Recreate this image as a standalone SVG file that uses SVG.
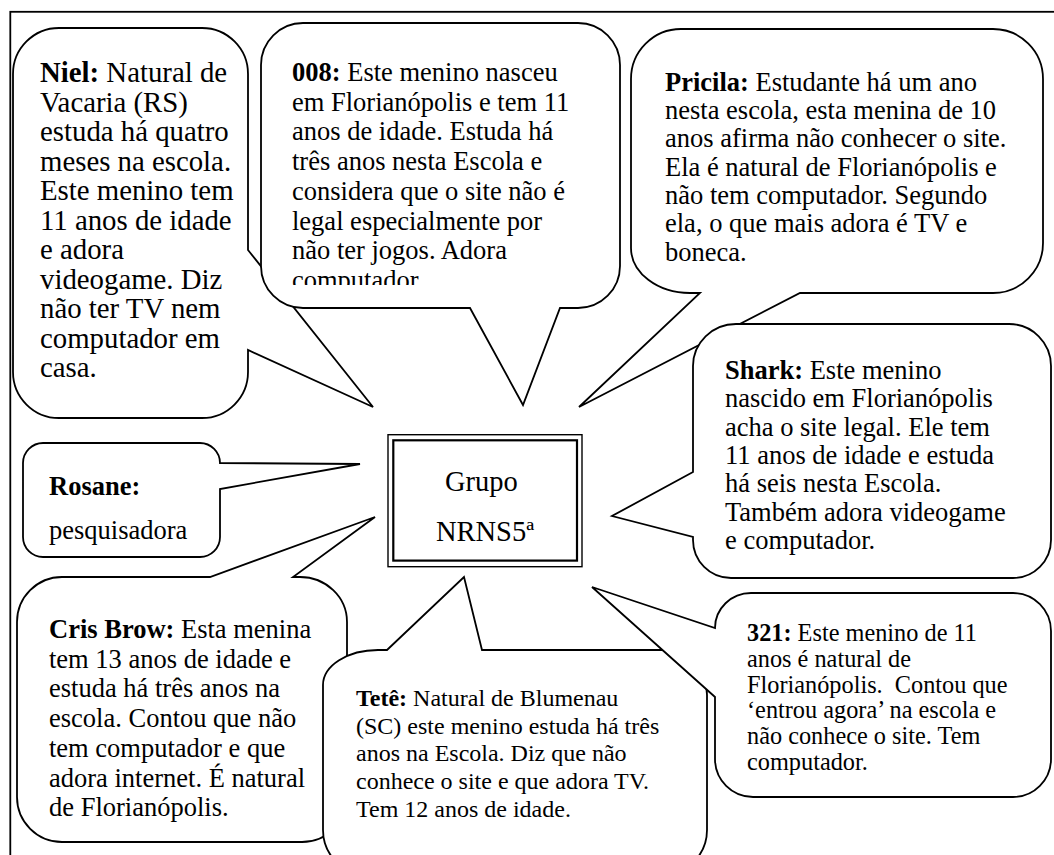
<svg xmlns="http://www.w3.org/2000/svg" width="1054" height="855" viewBox="0 0 1054 855">
<style>
.b{fill:#fff;stroke:#000;stroke-width:1.8;stroke-linejoin:miter}
.t{font-family:"Liberation Serif","Times New Roman",serif;fill:#000}
.n{font-weight:bold}
.g{font-size:26.5px}
.s{font-size:24px}
</style>
<defs>
<clipPath id="c008"><rect x="261" y="23" width="359" height="262"/></clipPath>
</defs>
<rect width="1054" height="855" fill="#fff"/>
<rect x="10.3" y="11.8" width="1100" height="900" fill="none" stroke="#000" stroke-width="1.8"/>

<g id="niel">
<path class="b" d="M59,28 H202 A46 46 0 0 1 248,74 V250 L373,407 L248,350 V372 A46 46 0 0 1 202,418 H59 A46 46 0 0 1 13,372 V74 A46 46 0 0 1 59,28 Z"/>
<text class="t" font-size="28.8">
<tspan x="40" y="82"><tspan class="n">Niel:</tspan> Natural de</tspan>
<tspan x="40" y="111.5">Vacaria (RS)</tspan>
<tspan x="40" y="141">estuda há quatro</tspan>
<tspan x="40" y="170.5">meses na escola.</tspan>
<tspan x="40" y="200">Este menino tem</tspan>
<tspan x="40" y="229.5">11 anos de idade</tspan>
<tspan x="40" y="259">e adora</tspan>
<tspan x="40" y="288.5">videogame. Diz</tspan>
<tspan x="40" y="318">não ter TV nem</tspan>
<tspan x="40" y="347.5">computador em</tspan>
<tspan x="40" y="377">casa.</tspan>
</text>
</g>

<g id="n008">
<path class="b" d="M303,23 H578 A42 42 0 0 1 620,65 V266 A42 42 0 0 1 578,308 H560 L523,405 L470,308 H303 A42 42 0 0 1 261,266 V65 A42 42 0 0 1 303,23 Z"/>
<text class="t g" clip-path="url(#c008)">
<tspan x="292" y="81"><tspan class="n">008:</tspan> Este menino nasceu</tspan>
<tspan x="292" y="110.7">em Florianópolis e tem 11</tspan>
<tspan x="292" y="140.4">anos de idade. Estuda há</tspan>
<tspan x="292" y="170.1">três anos nesta Escola e</tspan>
<tspan x="292" y="199.8">considera que o site não é</tspan>
<tspan x="292" y="229.5">legal especialmente por</tspan>
<tspan x="292" y="259.2">não ter jogos. Adora</tspan>
<tspan x="292" y="288.9">computador</tspan>
</text>
</g>

<g id="pricila">
<path class="b" d="M681,29 H993 A50 50 0 0 1 1043,79 V243 A50 50 0 0 1 993,293 H800 L579,407 L700,293 H690 A59 45 0 0 1 631,248 V79 A50 50 0 0 1 681,29 Z"/>
<text class="t g">
<tspan x="665" y="90.7"><tspan class="n">Pricila:</tspan> Estudante há um ano</tspan>
<tspan x="665" y="119">nesta escola, esta menina de 10</tspan>
<tspan x="665" y="147.3">anos afirma não conhecer o site.</tspan>
<tspan x="665" y="175.6">Ela é natural de Florianópolis e</tspan>
<tspan x="665" y="203.9">não tem computador. Segundo</tspan>
<tspan x="665" y="232.2">ela, o que mais adora é TV e</tspan>
<tspan x="665" y="260.5">boneca.</tspan>
</text>
</g>

<g id="shark">
<path class="b" d="M736,324 H1009 A42 42 0 0 1 1051,366 V540 A38 38 0 0 1 1013,578 H731 A38 38 0 0 1 693,540 V537 L612,516 L693,472 V366 A43 42 0 0 1 736,324 Z"/>
<text class="t g">
<tspan x="725" y="379"><tspan class="n">Shark:</tspan> Este menino</tspan>
<tspan x="725" y="407.3">nascido em Florianópolis</tspan>
<tspan x="725" y="435.6">acha o site legal. Ele tem</tspan>
<tspan x="725" y="463.9">11 anos de idade e estuda</tspan>
<tspan x="725" y="492.2">há seis nesta Escola.</tspan>
<tspan x="725" y="520.5">Também adora videogame</tspan>
<tspan x="725" y="548.8">e computador.</tspan>
</text>
</g>

<g id="rosane">
<path class="b" d="M43,443 H200 A20 20 0 0 1 220,463 L360,464 L220,489 V537 A20 20 0 0 1 200,557 H43 A20 20 0 0 1 23,537 V463 A20 20 0 0 1 43,443 Z"/>
<text class="t g">
<tspan x="49" y="495" class="n">Rosane:</tspan>
<tspan x="49" y="539">pesquisadora</tspan>
</text>
</g>

<g id="grupo">
<rect x="388" y="434.7" width="194" height="132" fill="#fff" stroke="#000" stroke-width="1.4"/>
<rect x="393.3" y="440.3" width="183.7" height="120.3" fill="none" stroke="#000" stroke-width="2.2"/>
<text class="t" font-size="28.5" text-anchor="middle">
<tspan x="485" y="491">Grupo</tspan>
<tspan x="485" y="541">NRNS5ª</tspan>
</text>
</g>

<g id="cris">
<path class="b" d="M62,577 H210 L375,517 L293,577 H300 A47 45 0 0 1 347,622 V797 A45 45 0 0 1 302,842 H62 A45 45 0 0 1 17,797 V622 A45 45 0 0 1 62,577 Z"/>
<text class="t g">
<tspan x="49" y="638"><tspan class="n">Cris Brow:</tspan> Esta menina</tspan>
<tspan x="49" y="667.7">tem 13 anos de idade e</tspan>
<tspan x="49" y="697.4">estuda há três anos na</tspan>
<tspan x="49" y="727.1">escola. Contou que não</tspan>
<tspan x="49" y="756.8">tem computador e que</tspan>
<tspan x="49" y="786.5">adora internet. É natural</tspan>
<tspan x="49" y="816.2">de Florianópolis.</tspan>
</text>
</g>

<g id="tete">
<path class="b" d="M378,650 H387 L464,577 L482,650 H662 A45 45 0 0 1 707,695 V830 A45 45 0 0 1 662,875 H368 A45 45 0 0 1 323,830 V685 A55 35 0 0 1 378,650 Z"/>
<text class="t s">
<tspan x="356" y="706"><tspan class="n">Tetê:</tspan> Natural de Blumenau</tspan>
<tspan x="356" y="733.7">(SC) este menino estuda há três</tspan>
<tspan x="356" y="761.4">anos na Escola. Diz que não</tspan>
<tspan x="356" y="789.1">conhece o site e que adora TV.</tspan>
<tspan x="356" y="816.8">Tem 12 anos de idade.</tspan>
</text>
</g>

<g id="n321">
<path class="b" d="M751,593 H1013 A38 38 0 0 1 1051,631 V759 A38 38 0 0 1 1013,797 H753 A38 38 0 0 1 715,759 V697 L592,587 L715,628 A36 35 0 0 1 751,593 Z"/>
<text class="t" font-size="24.3" xml:space="preserve"><tspan x="747" y="641"><tspan class="n">321:</tspan> Este menino de 11</tspan><tspan x="747" y="666.8">anos é natural de</tspan><tspan x="747" y="692.6">Florianópolis.  Contou que</tspan><tspan x="747" y="718.4">‘entrou agora’ na escola e</tspan><tspan x="747" y="744.2">não conhece o site. Tem</tspan><tspan x="747" y="770">computador.</tspan></text>
</g>
</svg>
